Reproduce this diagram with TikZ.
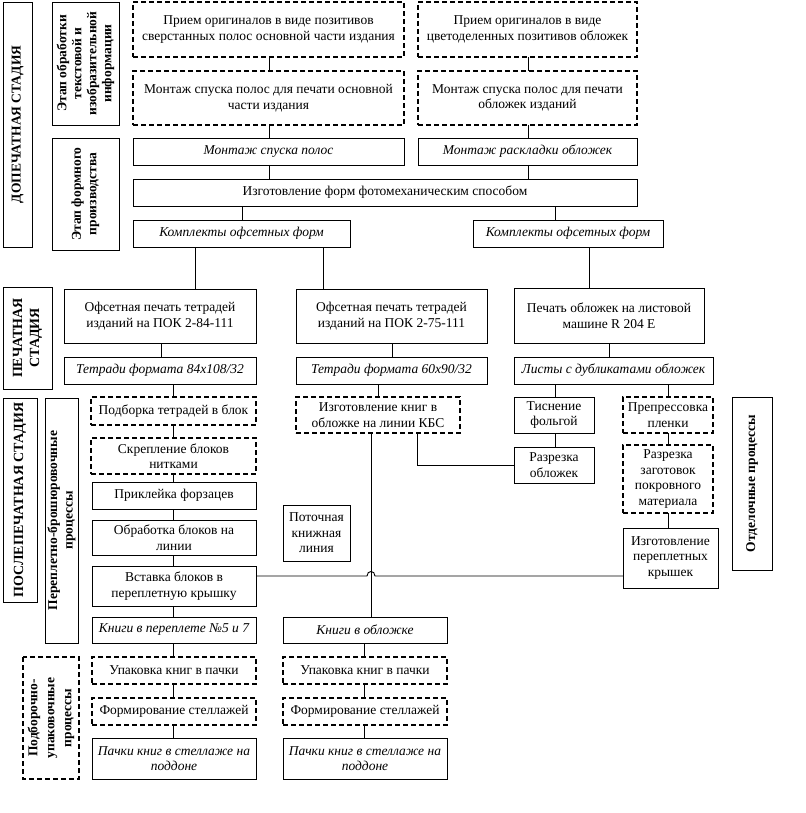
\documentclass[tikz,border=0pt]{standalone}
\usepackage{fontspec}
\setmainfont{Liberation Serif}
\newcommand\mfont{\fontsize{13.5}{15.5}\selectfont}
\newcommand\bx[7]{\node[#1, minimum width={(#5-#3)*1pt}, minimum height={(#6-#4)*1pt}] (#2) at ({(#3+#5)/2},{(#4+#6)/2}) {#7};}
\newcommand\sx[7]{\node[#1, minimum width={(#6-#4)*1pt}, minimum height={(#5-#3)*1pt}] (#2) at ({(#3+#5)/2},{(#4+#6)/2}) {#7};}
\begin{document}
\begin{tikzpicture}[x=1pt,y=-1pt,
  base/.style={draw, inner sep=1pt, outer sep=0pt, align=center, font=\mfont, line width=0.9pt},
  sbox/.style={base},
  dbox/.style={base, line width=1.7pt, dash pattern=on 5pt off 3pt},
  ibox/.style={base, font=\mfont\itshape},
  side/.style={base, rotate=90, font=\fontsize{13.5}{15.5}\selectfont\bfseries},
  dside/.style={side, line width=1.7pt, dash pattern=on 5pt off 3pt},
  conn/.style={line width=0.9pt}]
\useasboundingbox (0,0) rectangle (805,813);
% side labels
\sx{side}{dop}{3}{2}{32}{247}{ДОПЕЧАТНАЯ СТАДИЯ}
\sx{side, font=\fontsize{13.5}{15}\selectfont\bfseries}{etapa}{52}{2}{119}{125}{Этап обработки\\текстовой и\\изобразительной\\информации}
\sx{side}{etapb}{52}{138}{119}{250}{Этап формного\\производства}
\sx{side, font=\fontsize{14}{17}\selectfont\bfseries}{pech}{3}{287}{52}{389}{ПЕЧАТНАЯ\\СТАДИЯ}
\sx{side, font=\fontsize{14}{17}\selectfont\bfseries}{posle}{3}{398}{37}{602}{ПОСЛЕПЕЧАТНАЯ СТАДИЯ}
\sx{side}{perepl}{45}{398}{78}{643}{Переплетно-брошюровочные\\процессы}
\sx{dside, font=\fontsize{13.5}{17}\selectfont\bfseries}{podb}{23}{657}{79}{779}{Подборочно-\\упаковочные\\процессы}
\sx{side}{otd}{732}{397}{772}{570}{Отделочные процессы}
% main boxes
\bx{dbox}{pa}{133}{2}{404}{57}{Прием оригиналов в виде позитивов\\сверстанных полос основной части издания}
\bx{dbox}{pb}{418}{2}{637}{57}{Прием оригиналов в виде\\цветоделенных позитивов обложек}
\bx{dbox}{ma}{133}{71}{404}{125}{Монтаж спуска полос для печати основной\\части издания}
\bx{dbox}{mb}{418}{71}{637}{125}{Монтаж спуска полос для печати\\обложек изданий}
\bx{ibox}{ms}{133}{138}{404}{165}{Монтаж спуска полос}
\bx{ibox}{mr}{418}{138}{637}{165}{Монтаж раскладки обложек}
\bx{sbox}{izg}{133}{179}{637}{206}{Изготовление форм фотомеханическим способом}
\bx{ibox}{ka}{133}{220}{350}{247}{Комплекты офсетных форм}
\bx{ibox}{kb}{473}{220}{663}{247}{Комплекты офсетных форм}
\bx{sbox}{oa}{64}{289}{256}{343}{Офсетная печать тетрадей\\изданий на ПОК 2-84-111}
\bx{sbox}{ob}{296}{289}{487}{343}{Офсетная печать тетрадей\\изданий на ПОК 2-75-111}
\bx{sbox}{oc}{514}{288}{704}{343}{Печать обложек на листовой\\машине R 204 E}
\bx{ibox}{ta}{64}{357}{256}{384}{Тетради формата 84x108/32}
\bx{ibox}{tb}{296}{357}{487}{384}{Тетради формата 60x90/32}
\bx{ibox}{lc}{514}{357}{713}{384}{Листы с дубликатами обложек}
\bx{dbox}{pod}{91}{397}{256}{425}{Подборка тетрадей в блок}
\bx{dbox}{skr}{91}{438}{256}{474}{Скрепление блоков\\нитками}
\bx{sbox}{prk}{92}{482}{256}{509}{Приклейка форзацев}
\bx{sbox}{obr}{92}{520}{256}{555}{Обработка блоков на\\линии}
\bx{sbox}{vst}{92}{566}{256}{606}{Вставка блоков в\\переплетную крышку}
\bx{ibox}{kna}{92}{617}{256}{643}{Книги в переплете №5 и 7}
\bx{dbox}{upa}{92}{657}{256}{684}{Упаковка книг в пачки}
\bx{dbox}{fsa}{92}{698}{256}{725}{Формирование стеллажей}
\bx{ibox}{pka}{92}{738}{256}{779}{Пачки книг в стеллаже на\\поддоне}
\bx{dbox}{kbs}{296}{397}{460}{433}{Изготовление книг в\\обложке на линии КБС}
\bx{sbox}{pot}{283}{505}{350}{561}{Поточная\\книжная\\линия}
\bx{ibox}{knb}{283}{617}{447}{643}{Книги в обложке}
\bx{dbox}{upb}{283}{657}{447}{684}{Упаковка книг в пачки}
\bx{dbox}{fsb}{283}{698}{447}{725}{Формирование стеллажей}
\bx{ibox}{pkb}{283}{738}{447}{779}{Пачки книг в стеллаже на\\поддоне}
\bx{sbox}{tis}{514}{397}{594}{433}{Тиснение\\фольгой}
\bx{dbox}{prp}{623}{397}{713}{433}{Препрессовка\\пленки}
\bx{sbox}{raz}{514}{447}{594}{483}{Разрезка\\обложек}
\bx{dbox}{rzg}{623}{445}{713}{513}{Разрезка\\заготовок\\покровного\\материала}
\bx{sbox}{ikr}{623}{528}{718}{588}{Изготовление\\переплетных\\крышек}
% connector columns
\coordinate (xa) at (269,0);
\coordinate (xb) at (528,0);
\coordinate (xc) at (242,0);
\coordinate (xd) at (555,0);
\coordinate (xe) at (195,0);
\coordinate (xf) at (323,0);
\coordinate (xg) at (589,0);
\coordinate (xh) at (161,0);
\coordinate (xi) at (173,0);
\coordinate (xj) at (392,0);
\coordinate (xk) at (378,0);
\coordinate (xl) at (609,0);
\coordinate (xm) at (668,0);
\coordinate (xn) at (371,0);
\coordinate (xo) at (364,0);
\coordinate (xp) at (417,0);
\coordinate (ja) at (367,576);
\coordinate (jb) at (375,576);
\coordinate (jy) at (0,576);
\draw[conn] (pa.south -| xa) -- (ma.north -| xa);
\draw[conn] (ma.south -| xa) -- (ms.north -| xa);
\draw[conn] (ms.south -| xa) -- (izg.north -| xa);
\draw[conn] (pb.south -| xb) -- (mb.north -| xb);
\draw[conn] (mb.south -| xb) -- (mr.north -| xb);
\draw[conn] (mr.south -| xb) -- (izg.north -| xb);
\draw[conn] (izg.south -| xc) -- (ka.north -| xc);
\draw[conn] (izg.south -| xd) -- (kb.north -| xd);
\draw[conn] (ka.south -| xe) -- (oa.north -| xe);
\draw[conn] (ka.south -| xf) -- (ob.north -| xf);
\draw[conn] (kb.south -| xg) -- (oc.north -| xg);
\draw[conn] (oa.south -| xh) -- (ta.north -| xh);
\draw[conn] (ta.south -| xi) -- (pod.north -| xi);
\draw[conn] (pod.south -| xi) -- (skr.north -| xi);
\draw[conn] (skr.south -| xi) -- (prk.north -| xi);
\draw[conn] (prk.south -| xi) -- (obr.north -| xi);
\draw[conn] (obr.south -| xi) -- (vst.north -| xi);
\draw[conn] (vst.south -| xi) -- (kna.north -| xi);
\draw[conn] (kna.south -| xi) -- (upa.north -| xi);
\draw[conn] (upa.south -| xi) -- (fsa.north -| xi);
\draw[conn] (fsa.south -| xi) -- (pka.north -| xi);
\draw[conn] (ob.south -| xj) -- (tb.north -| xj);
\draw[conn] (tb.south -| xk) -- (kbs.north -| xk);
\draw[conn] (oc.south -| xl) -- (lc.north -| xl);
\draw[conn] (lc.south -| xd) -- (tis.north -| xd);
\draw[conn] (tis.south -| xd) -- (raz.north -| xd);
\draw[conn] (lc.south -| xm) -- (prp.north -| xm);
\draw[conn] (prp.south -| xm) -- (rzg.north -| xm);
\draw[conn] (rzg.south -| xm) -- (ikr.north -| xm);
\draw[conn] (raz.west) -- (raz.west -| xp) -- (kbs.south -| xp);
\draw[conn] (kbs.south -| xn) -- (knb.north -| xn);
\draw[conn] (vst.east |- jy) -- (ja) .. controls ++(0,-6) and ++(0,-6) .. (jb) -- (ikr.west |- jy);
\draw[conn] (knb.south -| xo) -- (upb.north -| xo);
\draw[conn] (upb.south -| xo) -- (fsb.north -| xo);
\draw[conn] (fsb.south -| xo) -- (pkb.north -| xo);
\end{tikzpicture}
\end{document}
